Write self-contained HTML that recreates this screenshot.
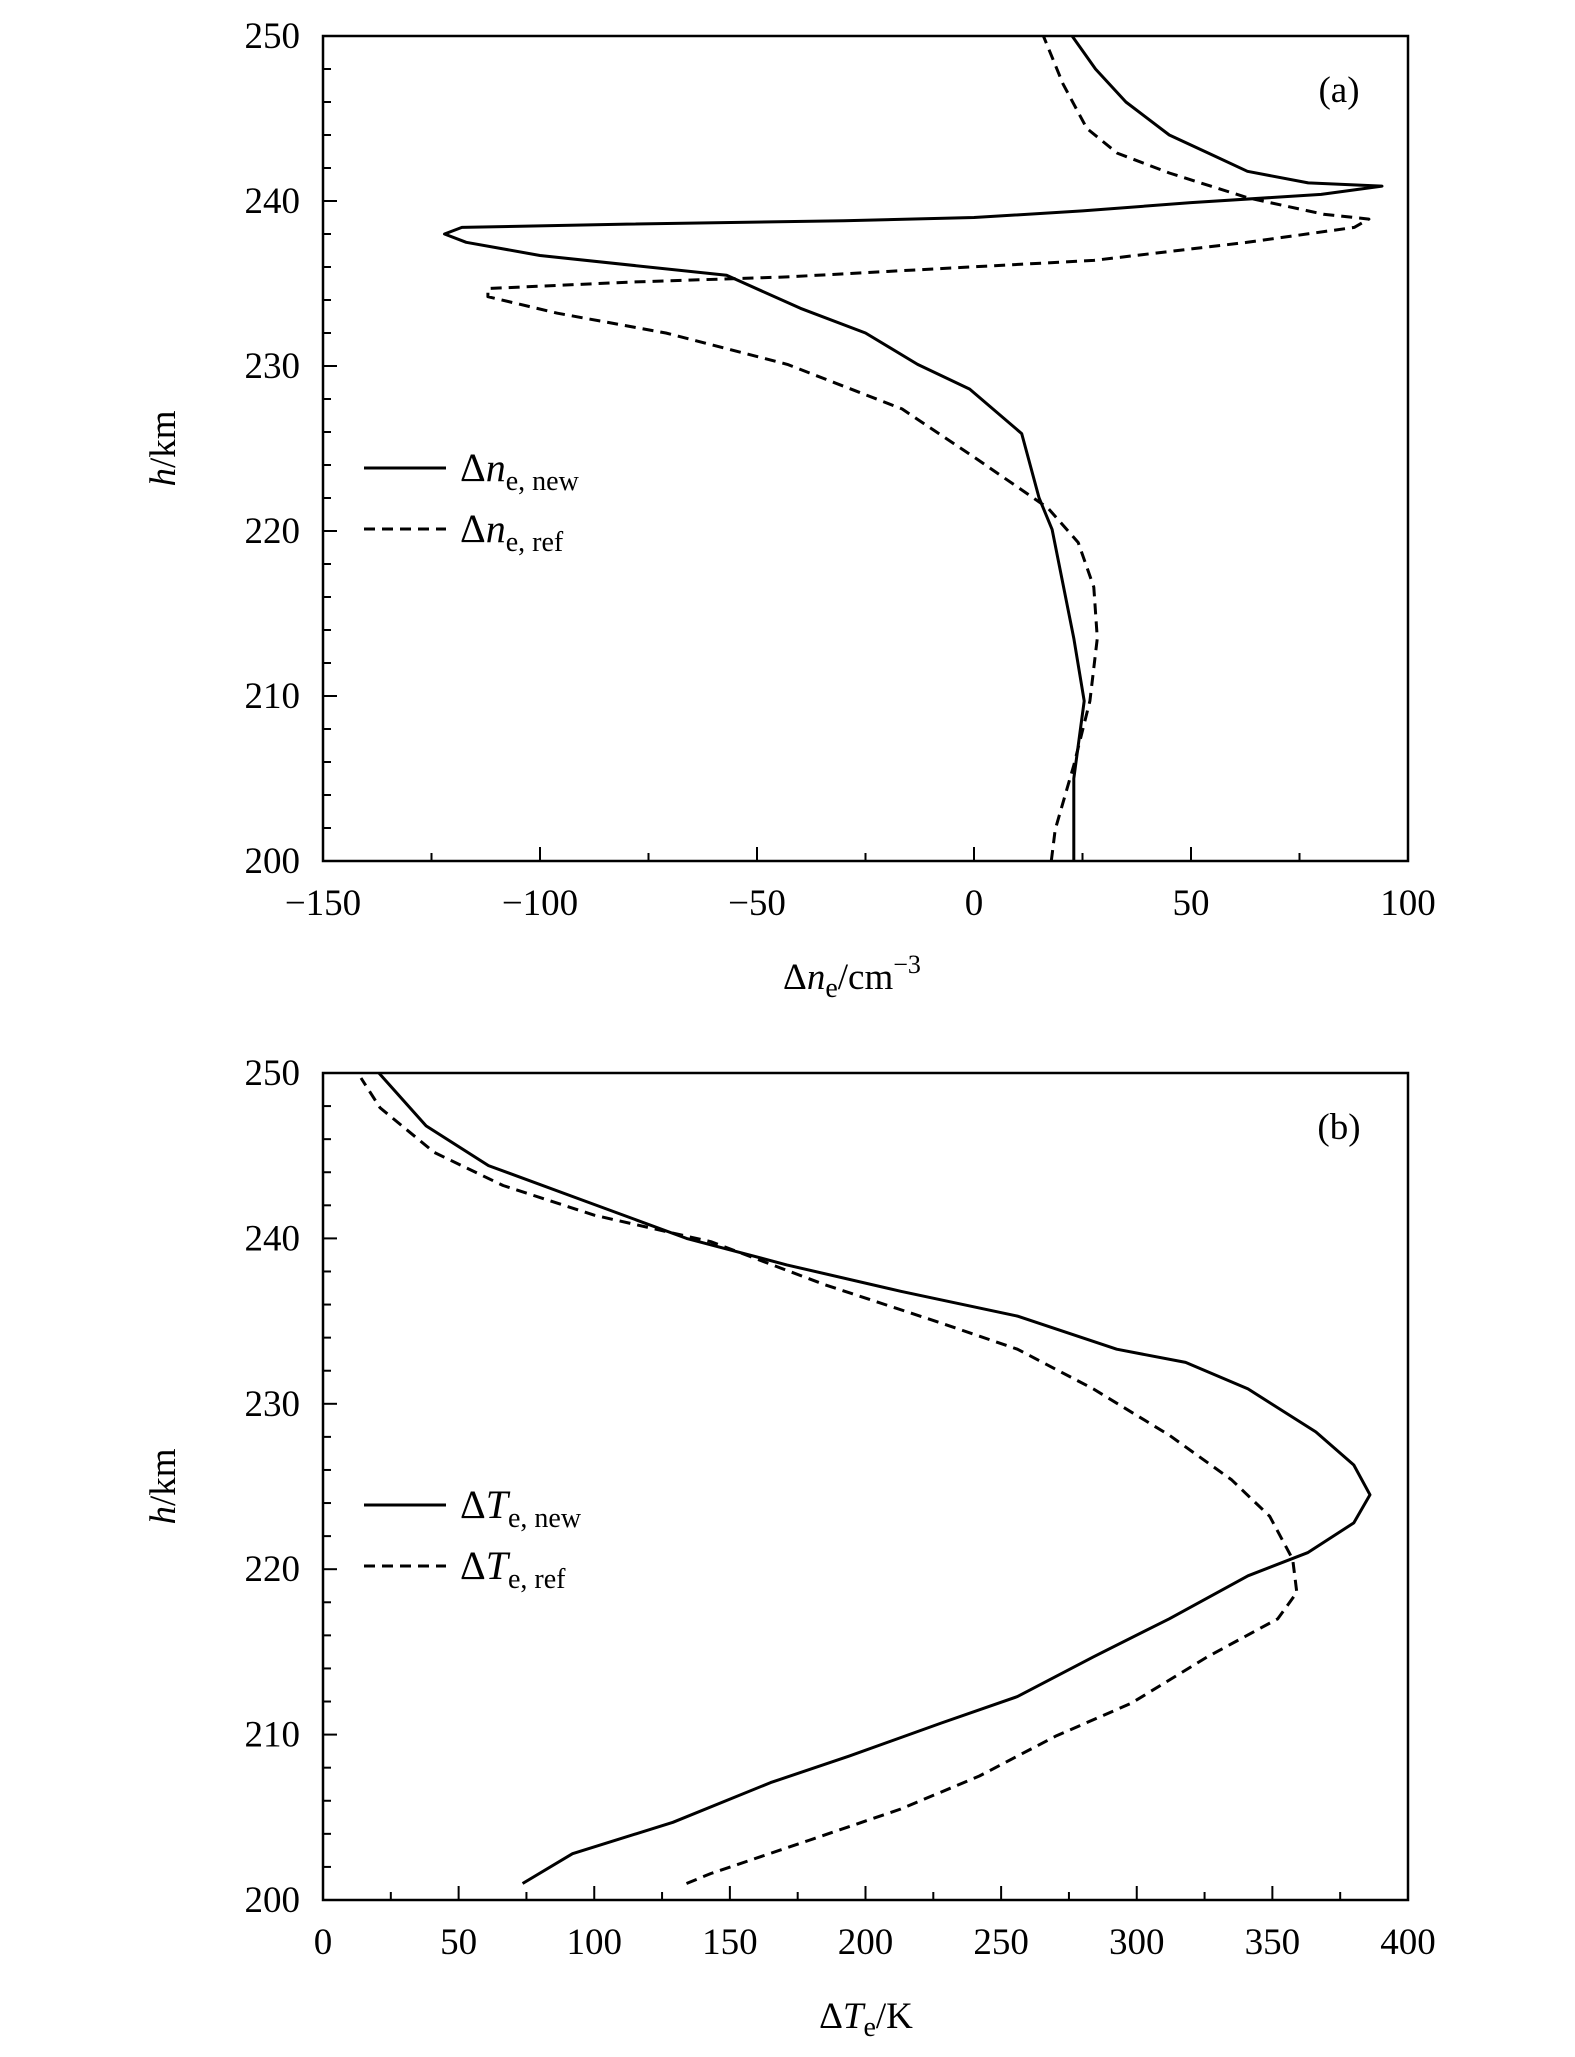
<!DOCTYPE html>
<html><head><meta charset="utf-8"><style>
body{margin:0;background:#fff}
svg{display:block;font-family:"Liberation Serif",serif}
</style></head><body>
<svg id="chart" width="1575" height="2057" viewBox="0 0 1575 2057" xmlns="http://www.w3.org/2000/svg">
<g id="pa"></g>
<g id="pb"></g>
</svg>
<script>
const NS="http://www.w3.org/2000/svg";
// Panel a data (x = Δne, h = altitude)
const aNewX=[23,23,25.4,23,18,15,11,-1,-13,-25,-40,-57,-100,-117,-122,-118,-80,-30,0,25,50,80,94,77,63,54,45,35,28,22.6];
const aNewH=[200,205,209.7,213.5,220.1,222,225.9,228.6,230.1,232,233.5,235.5,236.7,237.5,238,238.4,238.6,238.8,239,239.4,239.9,240.4,240.9,241.1,241.8,242.9,244,246,248,250];
const aRefX=[17.8,18.7,23,26.7,28.4,27.6,24,17,1,-16.6,-43,-71,-96,-112,-112,-78,-43,-7.8,27.6,63,87.6,91,80.5,63,45,33,26,20.5,16];
const aRefH=[200,201.9,205.8,209.7,213.5,216.6,219.3,221.4,224.3,227.4,230.1,232,233.2,234.2,234.7,235.1,235.4,235.9,236.4,237.5,238.4,238.9,239.2,240.2,241.7,242.9,244.4,247.1,250];
// Panel b data (x = ΔTe, h = altitude)
const bNewX=[73.6,92,129,165,194,228,256,284,312,341,363,380,386,380,366,341,318,292.6,256,213,171,134,97.5,61,38,20.6];
const bNewH=[201,202.8,204.7,207.1,208.7,210.7,212.3,214.7,217,219.6,221,222.8,224.5,226.3,228.3,230.9,232.5,233.3,235.3,236.8,238.4,240,242.2,244.4,246.8,250];
const bRefX=[134,143,179,213,242,270,298,326,352,359,357.5,349,335,312,284,256,227.6,185,143,100,66.4,41,21,14];
const bRefH=[201,201.6,203.6,205.5,207.5,209.9,211.9,214.7,217,218.6,220.6,223.2,225.4,228.1,230.9,233.3,234.9,237.2,239.8,241.4,243.2,245.2,247.9,249.7];
const aXTicks=[-150,-100,-50,0,50,100];
const aXLabels=["\u2212150","\u2212100","\u221250","0","50","100"];
const bXTicks=[0,50,100,150,200,250,300,350,400];
const yTicks=[200,210,220,230,240,250];

function mk(tag,attrs,parent){const e=document.createElementNS(NS,tag);for(const k in attrs)e.setAttribute(k,attrs[k]);parent.appendChild(e);return e;}

function panel(g,cfg){
  const L=323,R=1408,T=cfg.top,B=cfg.bottom;
  const sx=v=>L+(v-cfg.xmin)/(cfg.xmax-cfg.xmin)*(R-L);
  const sy=h=>B-(h-200)/50*(B-T);
  // minor/major ticks
  for(let h=200;h<=250;h+=2){
    const major=(h%10===0);
    const t=mk('line',{x1:L,x2:L+(major?14:8),y1:sy(h),y2:sy(h),stroke:'#000','stroke-width':2},g);
    
    
  }
  for(let v=cfg.xmin;v<=cfg.xmax;v+=cfg.minor){
    const major=((v-cfg.xmin)%cfg.major===0);
    const t=mk('line',{x1:sx(v),x2:sx(v),y1:B,y2:B-(major?14:8),stroke:'#000','stroke-width':2},g);
    
    
  }
  yTicks.forEach(h=>{
    const t=mk('text',{x:300,y:sy(h)+12,'text-anchor':'end','font-size':37},g);
    t.textContent=h;
    
    
  });
  cfg.xt.forEach((v,i)=>{
    const t=mk('text',{x:sx(v),y:B+54,'text-anchor':'middle','font-size':37},g);
    t.textContent=cfg.xl[i];
    
    
  });
  const fr=mk('rect',{x:L,y:T,width:R-L,height:B-T,fill:'none',stroke:'#000','stroke-width':2.5},g);
  
  
  const series=[[cfg.nx,cfg.nh,null,'series-new'],[cfg.rx,cfg.rh,'11 7','series-ref']];
  series.forEach(s=>{
    const d=s[0].map((v,i)=>(i?'L':'M')+sx(v).toFixed(1)+','+sy(s[1][i]).toFixed(1)).join(' ');
    const p=mk('path',{d:d,fill:'none',stroke:'#000','stroke-width':3,'stroke-linejoin':'round'},g);
    if(s[2])p.setAttribute('stroke-dasharray',s[2]);
    
    
  });
  // y title
  const yt=mk('text',{transform:`translate(175,${(T+B)/2}) rotate(-90)`,'text-anchor':'middle','font-size':37},g);
  yt.innerHTML='<tspan font-style="italic">h</tspan>/km';
  
  
  const xt=mk('text',{x:cfg.xtx,y:B+128,'text-anchor':'middle','font-size':37},g);
  xt.innerHTML=cfg.xtitle;
  
  
  const pl=mk('text',{x:1339,y:T+66,'text-anchor':'middle','font-size':37},g);
  pl.textContent=cfg.label;
  
  
  // legend
  [[0,null,'new'],[61,'11 7','ref']].forEach(e=>{
    const ly=T+432+e[0];
    const lg=mk('g',{},g);
    
    
    const ln=mk('line',{x1:364,x2:446,y1:ly,y2:ly,stroke:'#000','stroke-width':3},lg);
    if(e[1])ln.setAttribute('stroke-dasharray',e[1]);
    const tx=mk('text',{x:460,y:ly+13,'font-size':40},lg);
    tx.innerHTML='\u0394<tspan font-style="italic">'+cfg.sym+'</tspan><tspan font-size="28" dy="9">e, '+e[2]+'</tspan>';
  });
}
panel(document.getElementById('pa'),{top:36,bottom:861,xmin:-150,xmax:100,minor:25,major:50,xt:aXTicks,xl:aXLabels,
  nx:aNewX,nh:aNewH,rx:aRefX,rh:aRefH,label:'(a)',sym:'n',xtx:852,
  xtitle:'\u0394<tspan font-style="italic">n</tspan><tspan font-size="28" dy="8">e</tspan><tspan dy="-8">/cm</tspan><tspan font-size="26" dy="-16">\u22123</tspan>'});
panel(document.getElementById('pb'),{top:1073,bottom:1900,xmin:0,xmax:400,minor:25,major:50,xt:bXTicks,xl:bXTicks.map(String),
  nx:bNewX,nh:bNewH,rx:bRefX,rh:bRefH,label:'(b)',sym:'T',xtx:866,
  xtitle:'\u0394<tspan font-style="italic">T</tspan><tspan font-size="28" dy="8">e</tspan><tspan dy="-8">/K</tspan>'});
</script>
</body></html>
